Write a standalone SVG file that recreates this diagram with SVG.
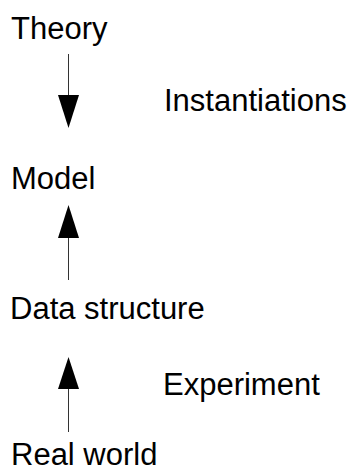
<svg xmlns="http://www.w3.org/2000/svg" width="354" height="473" viewBox="0 0 354 473">
  <style>
    .lbl { font-family: "Liberation Sans", Arial, sans-serif; font-size: 31px; fill: #000; }
    .shaft { stroke: #333; stroke-width: 1; fill: none; }
    .head { fill: #000; }
  </style>
  <rect width="354" height="473" fill="#fff"/>
  <g id="connectors">
    <!-- Theory down to Model -->
    <line class="shaft" x1="68.5" y1="54" x2="68.5" y2="96"/>
    <polygon class="head" points="58,95 79,95 68.5,128"/>
    <!-- Data structure up to Model -->
    <line class="shaft" x1="68.5" y1="236" x2="68.5" y2="280"/>
    <polygon class="head" points="58,238 79,238 68.5,205"/>
    <!-- Real world up to Data structure -->
    <line class="shaft" x1="68.5" y1="388" x2="68.5" y2="432"/>
    <polygon class="head" points="58,389 79,389 68.5,357"/>
  </g>
  <g id="theory"><text class="lbl" x="11" y="39">Theory</text></g>
  <g id="instantiations"><text class="lbl" x="164" y="111">Instantiations</text></g>
  <g id="model"><text class="lbl" x="11" y="189">Model</text></g>
  <g id="data-structure"><text class="lbl" x="10" y="319">Data structure</text></g>
  <g id="experiment"><text class="lbl" x="163" y="395">Experiment</text></g>
  <g id="real-world"><text class="lbl" x="11" y="465">Real world</text></g>
</svg>
